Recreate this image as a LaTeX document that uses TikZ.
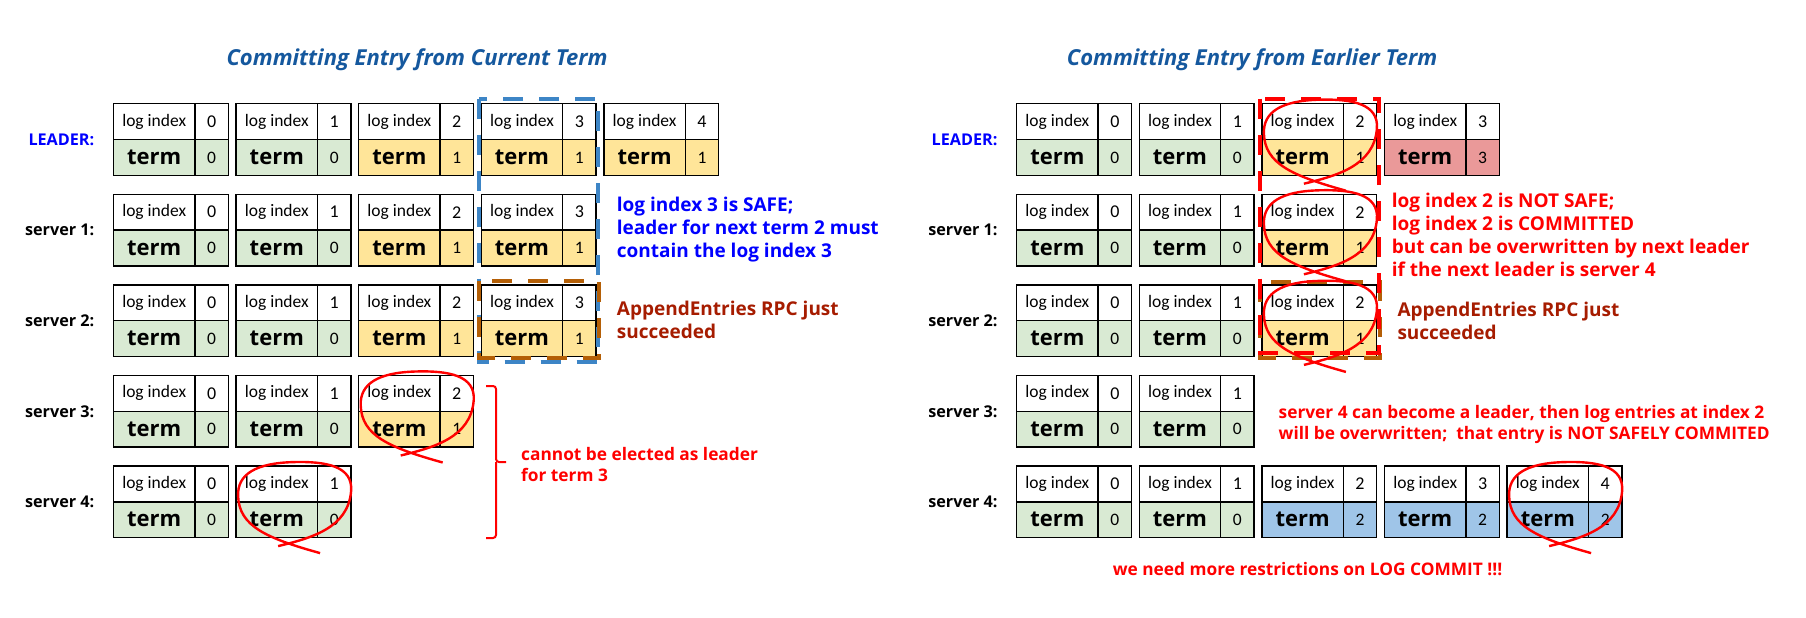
\documentclass[tikz,border=0pt]{standalone}
\usepackage{fontspec}
\setmainfont{Open Sans}
\newfontfamily\cellfont{Carlito}
\usetikzlibrary{positioning,calc}
\definecolor{lgreen}{HTML}{D9EAD3}
\definecolor{lyellow}{HTML}{FFE599}
\definecolor{lred}{HTML}{EA9999}
\definecolor{lblue}{HTML}{9FC5E8}
\definecolor{titleblue}{HTML}{15589E}
\definecolor{leaderblue}{HTML}{0000FF}
\definecolor{markred}{HTML}{FF0000}
\definecolor{rpcbrown}{HTML}{A61C00}
\definecolor{frameblue}{HTML}{3D85C6}
\definecolor{framebrown}{HTML}{B45F06}
\tikzset{
  cell/.style={draw=black, line width=1.3pt, inner sep=0pt, outer sep=0pt,
               minimum height=35.8pt, anchor=north west},
  idxcell/.style={cell, fill=white, minimum width=81.4pt, font=\cellfont\fontsize{17.5}{20}\selectfont},
  numcell/.style={cell, fill=white, minimum width=33.4pt, font=\cellfont\fontsize{18}{20}\selectfont},
  termcell/.style={cell, minimum width=81.4pt, font=\bfseries\fontsize{22}{24}\selectfont},
  tnumcell/.style={cell, minimum width=33.4pt, font=\cellfont\fontsize{17.5}{20}\selectfont},
  rowlabel/.style={inner sep=0pt, font=\bfseries\fontsize{16.2}{18}\selectfont},
  heading/.style={font=\bfseries\itshape\fontsize{22}{26}\selectfont, text=titleblue},
  note/.style={anchor=west, align=left, inner sep=0pt, font=\bfseries\fontsize{19}{23}\selectfont},
  smallnote/.style={note, font=\bfseries\fontsize{17.3}{21}\selectfont},
  lasso/.style={draw=markred, line width=2.4pt},
  bracket/.style={draw=markred, line width=2pt, rounded corners=3pt},
  framed/.style={line width=4pt, dash pattern=on 20pt off 16pt}
}
% one log entry: name, x, y, index, term, colour
\newcommand{\logentry}[6]{%
  \node[idxcell] (#1) at (#2,#3) {log index};
  \node[numcell] (#1-n) at (#1.north east) {#4};
  \node[termcell, fill=#6] (#1-t) at (#1.south west) {term};
  \node[tnumcell, fill=#6] (#1-v) at (#1-t.north east) {#5};
}

\begin{document}
\begin{tikzpicture}[x=1pt, y=-1pt]
  \fill[white] (0,0) rectangle (1806,618);
  \useasboundingbox (0,0) rectangle (1806,618);

  \node[heading] (titleA) at (417,60) {Committing Entry from Current Term};
  \node[heading] (titleB) at (1252,60) {Committing Entry from Earlier Term};

  % current term
  \foreach \ix/\tm/\col in {0/0/lgreen,1/0/lgreen,2/1/lyellow,3/1/lyellow,4/1/lyellow}
    {\logentry{a-ld-\ix}{113.5+122.6*\ix}{103.7}{\ix}{\tm}{\col}}
  \foreach \ix/\tm/\col in {0/0/lgreen,1/0/lgreen,2/1/lyellow,3/1/lyellow}
    {\logentry{a-s1-\ix}{113.5+122.6*\ix}{194.3}{\ix}{\tm}{\col}}
  \foreach \ix/\tm/\col in {0/0/lgreen,1/0/lgreen,2/1/lyellow,3/1/lyellow}
    {\logentry{a-s2-\ix}{113.5+122.6*\ix}{284.9}{\ix}{\tm}{\col}}
  \foreach \ix/\tm/\col in {0/0/lgreen,1/0/lgreen,2/1/lyellow}
    {\logentry{a-s3-\ix}{113.5+122.6*\ix}{375.5}{\ix}{\tm}{\col}}
  \foreach \ix/\tm/\col in {0/0/lgreen,1/0/lgreen}
    {\logentry{a-s4-\ix}{113.5+122.6*\ix}{466.1}{\ix}{\tm}{\col}}

  % earlier term
  \foreach \ix/\tm/\col in {0/0/lgreen,1/0/lgreen,2/1/lyellow,3/3/lred}
    {\logentry{b-ld-\ix}{1016.7+122.6*\ix}{103.7}{\ix}{\tm}{\col}}
  \foreach \ix/\tm/\col in {0/0/lgreen,1/0/lgreen,2/1/lyellow}
    {\logentry{b-s1-\ix}{1016.7+122.6*\ix}{194.3}{\ix}{\tm}{\col}}
  \foreach \ix/\tm/\col in {0/0/lgreen,1/0/lgreen,2/1/lyellow}
    {\logentry{b-s2-\ix}{1016.7+122.6*\ix}{284.9}{\ix}{\tm}{\col}}
  \foreach \ix/\tm/\col in {0/0/lgreen,1/0/lgreen}
    {\logentry{b-s3-\ix}{1016.7+122.6*\ix}{375.5}{\ix}{\tm}{\col}}
  \foreach \ix/\tm/\col in {0/0/lgreen,1/0/lgreen,2/2/lblue,3/2/lblue,4/2/lblue}
    {\logentry{b-s4-\ix}{1016.7+122.6*\ix}{466.1}{\ix}{\tm}{\col}}

  \foreach \p in {a,b} {
    \node[rowlabel, text=leaderblue, left=19pt of \p-ld-0.south west] (\p-ldlab) {LEADER:};
    \node[rowlabel, left=19pt of \p-s1-0.south west] (\p-s1lab) {server 1:};
    \node[rowlabel, left=19pt of \p-s2-0.south west] (\p-s2lab) {server 2:};
    \node[rowlabel, left=19pt of \p-s3-0.south west] (\p-s3lab) {server 3:};
    \node[rowlabel, left=19pt of \p-s4-0.south west] (\p-s4lab) {server 4:};
  }

  % frames
  \draw[framed, frameblue] ($(a-ld-3.north west)+(-2,-5)$) rectangle ($(a-s2-3-v.south east)+(2,5)$);
  \draw[framed, framebrown] ($(a-s2-3.north west)+(-2,-4)$) rectangle ($(a-s2-3-v.south east)+(3,1)$);
  \draw[framed, framebrown] ($(b-s2-2.north west)+(-2,-3)$) rectangle ($(b-s2-2-v.south east)+(3,1)$);
  \draw[framed, markred] ($(b-ld-2.north west)+(-2,-5)$) rectangle ($(b-s2-2-v.south east)+(2,-4)$);

  \foreach \n in {a-s3-2,a-s4-1,b-ld-2,b-s1-2,b-s2-2,b-s4-4}
    \draw[lasso, shift={(\n.north west)}] (42,80) .. controls (75,72) and (112,62) .. (115,25)
      .. controls (117,0) and (90,-5) .. (57,-4) .. controls (20,-3) and (1,8) .. (2,30)
      .. controls (3,60) and (30,72) .. (84,87);

  \coordinate (brtop) at (486,386);
  \coordinate (brmid) at (506,462);
  \coordinate (brbot) at (486,538);
  \draw[bracket] (brtop) -- ++(10,0) |- (brmid);
  \draw[bracket] (brbot) -| ($(brmid)+(-10,0)$);

  \node[note, text=leaderblue] (safe) at (616.7,230) {log index 3 is SAFE;\\leader for next term 2 must\\contain the log index 3};
  \node[note, text=rpcbrown] (rpcA) at (616.7,319.5) {AppendEntries RPC just\\succeeded};
  \node[smallnote, text=markred] (noelect) at (521,465) {cannot be elected as leader\\for term 3};

  \node[note, text=markred] (unsafe) at (1391.7,234.4) {log index 2 is NOT SAFE;\\log index 2 is COMMITTED\\but can be overwritten by next leader\\if the next leader is server 4};
  \node[note, text=rpcbrown] (rpcB) at (1397.3,321) {AppendEntries RPC just\\succeeded};
  \node[smallnote, text=markred] (overwr) at (1278.5,425) {server 4 can become a leader, then log entries at index 2\\will be overwritten;~ that entry is NOT SAFELY COMMITED};
  \node[smallnote, text=markred] (restrict) at (1112.6,569) {we need more restrictions on LOG COMMIT !!!};
\end{tikzpicture}
\end{document}
